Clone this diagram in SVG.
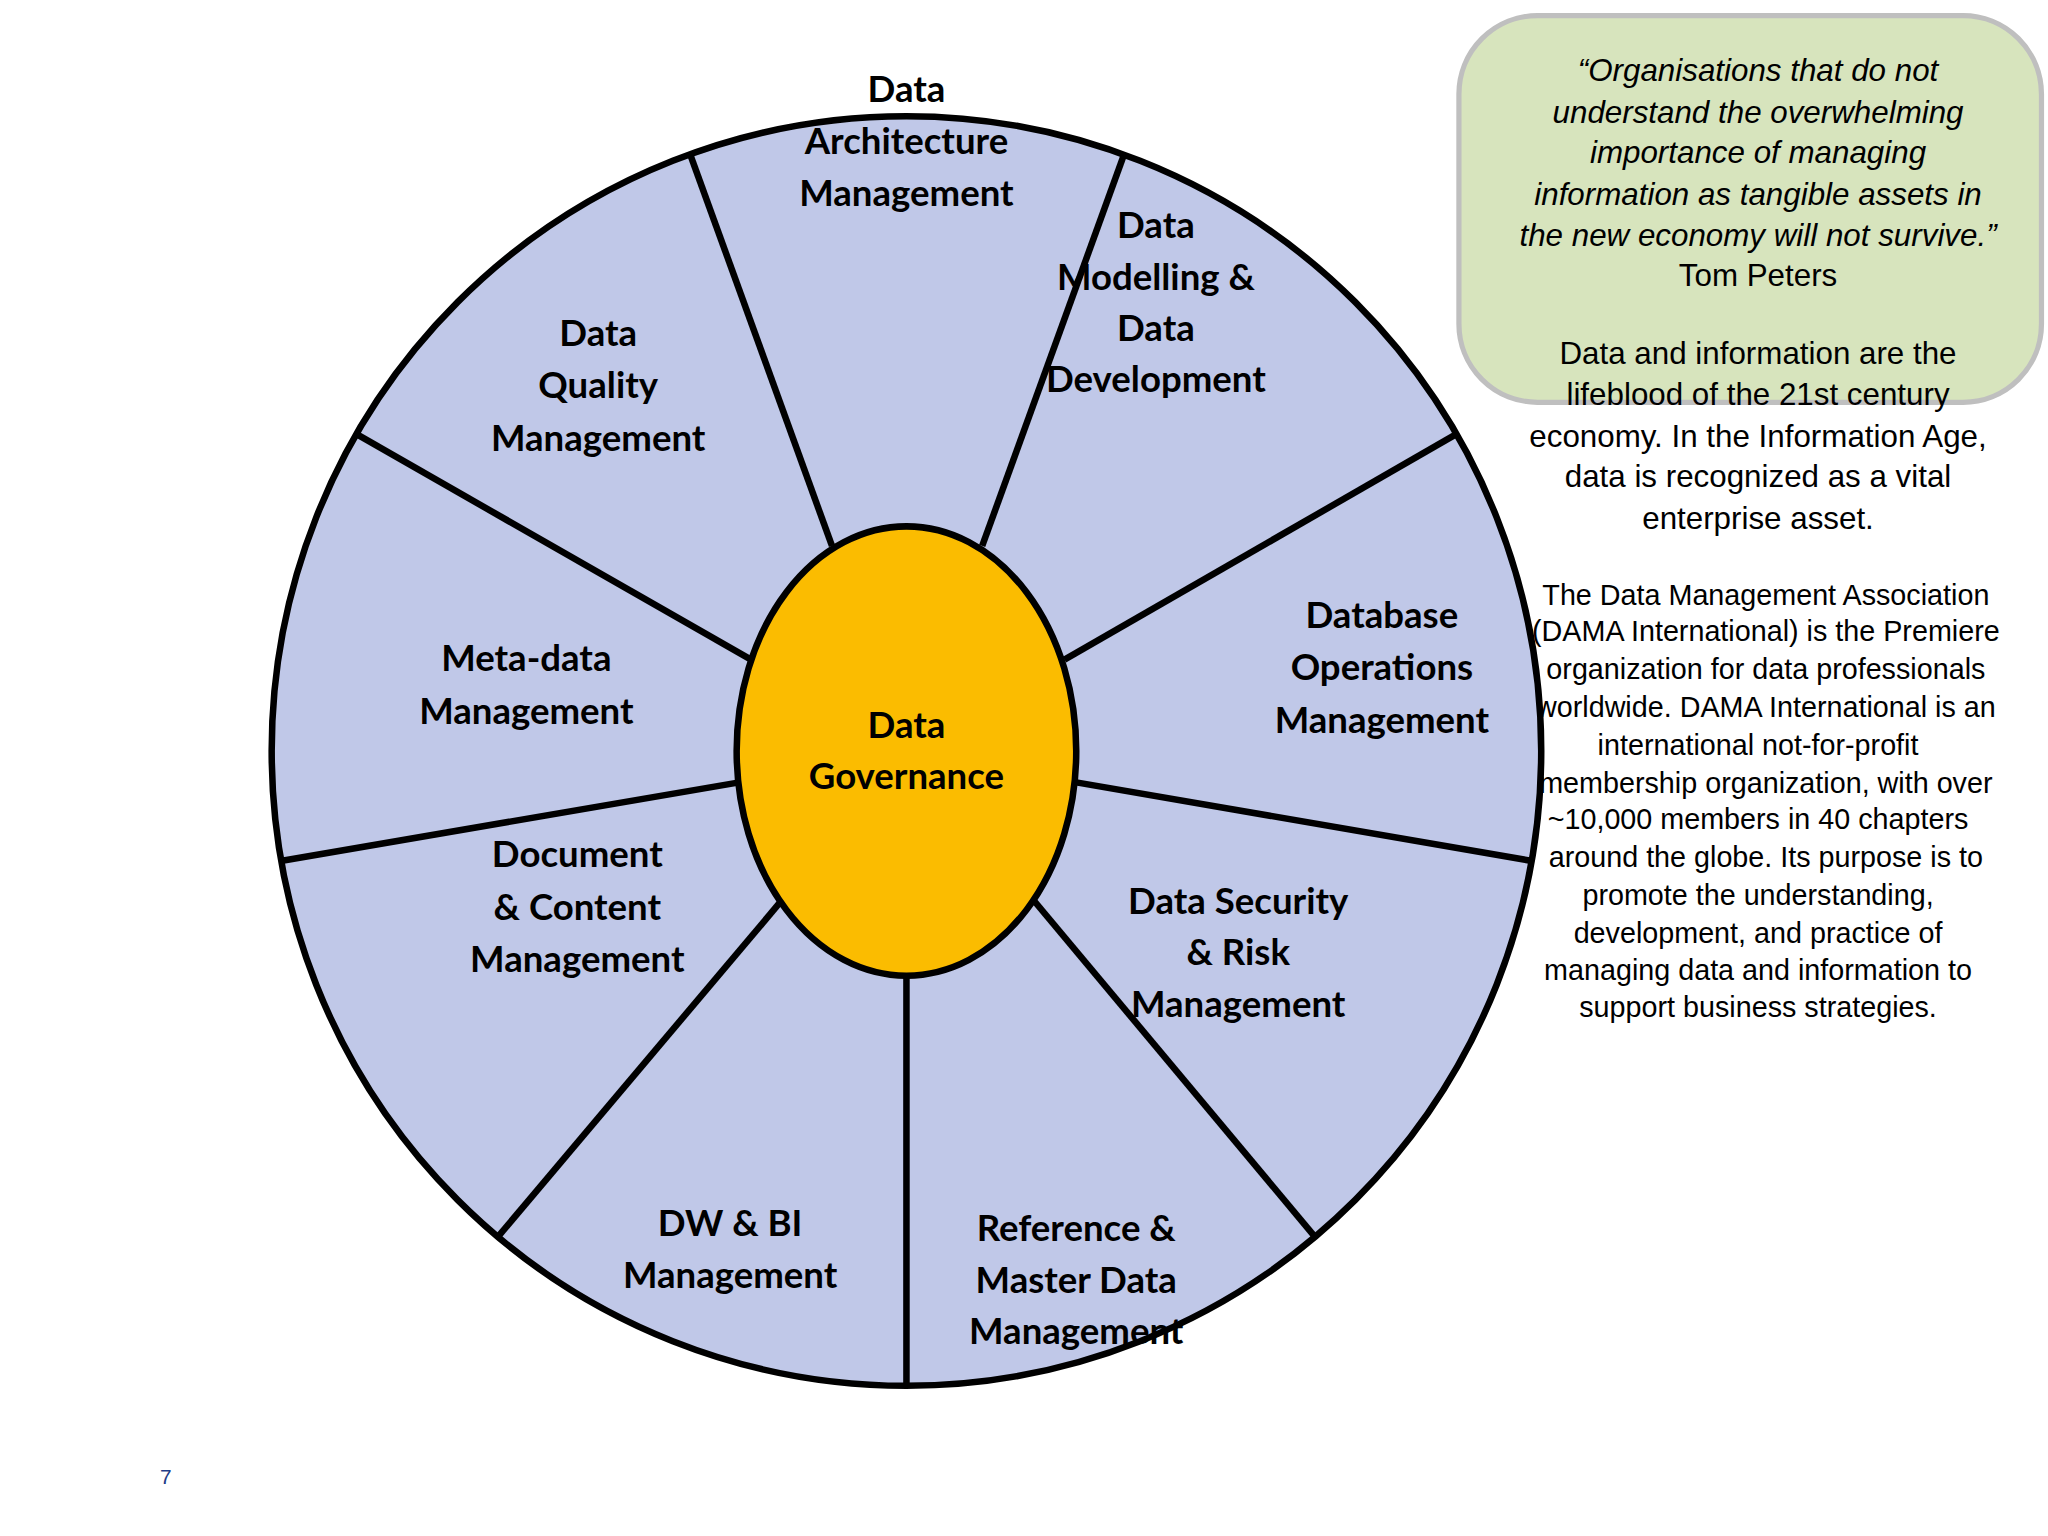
<svg xmlns="http://www.w3.org/2000/svg" width="2048" height="1536" viewBox="0 0 2048 1536">
<style>
.lb{font-family:Lato,"Open Sans",sans-serif;font-weight:bold;font-size:28px;fill:#000;text-anchor:middle}
.q{font-family:"Liberation Sans",Arial,sans-serif;font-size:24px;fill:#000;text-anchor:middle}
.p{font-family:"Liberation Sans",Arial,sans-serif;font-size:22px;fill:#000;text-anchor:middle}
.sp{stroke:#000;stroke-width:5;fill:none}
</style>
<rect width="2048" height="1536" fill="#fff"/>
<g transform="scale(1.30612)">
<g id="side-text">
<rect x="1117" y="12" width="446" height="296" rx="60" fill="#D7E4BD" stroke="#BFBFBF" stroke-width="4"/>
<text class="q" font-style="italic"><tspan x="1346" y="62">“Organisations that do not</tspan><tspan x="1346" y="94">understand the overwhelming</tspan><tspan x="1346" y="125">importance of managing</tspan><tspan x="1346" y="157">information as tangible assets in</tspan><tspan x="1346" y="188">the new economy will not survive.”</tspan></text>
<text class="q"><tspan x="1346" y="219">Tom Peters</tspan><tspan x="1346" y="279">Data and information are the</tspan><tspan x="1346" y="310">lifeblood of the 21st century</tspan><tspan x="1346" y="342">economy. In the Information Age,</tspan><tspan x="1346" y="373">data is recognized as a vital</tspan><tspan x="1346" y="405">enterprise asset.</tspan></text>
<text class="p"><tspan x="1352" y="463">The Data Management Association</tspan><tspan x="1352" y="491">(DAMA International) is the Premiere</tspan><tspan x="1352" y="520">organization for data professionals</tspan><tspan x="1352" y="549">worldwide. DAMA International is an</tspan><tspan x="1346" y="578">international not-for-profit</tspan><tspan x="1352" y="607">membership organization, with over</tspan><tspan x="1346" y="635">~10,000 members in 40 chapters</tspan><tspan x="1352" y="664">around the globe. Its purpose is to</tspan><tspan x="1346" y="693">promote the understanding,</tspan><tspan x="1346" y="722">development, and practice of</tspan><tspan x="1346" y="750">managing data and information to</tspan><tspan x="1346" y="779">support business strategies.</tspan></text>
</g>
<g id="wheel">
<circle cx="694" cy="575" r="486" fill="#C0C8E8" stroke="#000" stroke-width="5"/>
</g>
<g id="connectors">
<line class="sp" x1="637" y1="418" x2="528" y2="117"/>
<line class="sp" x1="752" y1="418" x2="860" y2="120"/>
<line class="sp" x1="815" y1="505" x2="1114" y2="333"/>
<line class="sp" x1="824" y1="599" x2="1172" y2="659"/>
<line class="sp" x1="792" y1="690" x2="1006" y2="946"/>
<line class="sp" x1="694" y1="747" x2="694" y2="1060"/>
<line class="sp" x1="598" y1="690" x2="382" y2="946"/>
<line class="sp" x1="566" y1="599" x2="216" y2="659"/>
<line class="sp" x1="575" y1="505" x2="274" y2="333"/>
</g>
<g id="governance">
<ellipse cx="694" cy="575" rx="130" ry="172" fill="#FBBC00" stroke="#000" stroke-width="5"/>
<text class="lb"><tspan x="694" y="565">Data</tspan><tspan x="694" y="604">Governance</tspan></text>
</g>
<g id="architecture"><text class="lb"><tspan x="694" y="78">Data</tspan><tspan x="694" y="118">Architecture</tspan><tspan x="694" y="158">Management</tspan></text></g>
<g id="modelling"><text class="lb"><tspan x="885" y="182">Data</tspan><tspan x="885" y="222">Modelling &amp;</tspan><tspan x="885" y="261">Data</tspan><tspan x="885" y="300">Development</tspan></text></g>
<g id="database"><text class="lb"><tspan x="1058" y="481">Database</tspan><tspan x="1058" y="521">Operations</tspan><tspan x="1058" y="561">Management</tspan></text></g>
<g id="security"><text class="lb"><tspan x="948" y="700">Data Security</tspan><tspan x="948" y="739">&amp; Risk</tspan><tspan x="948" y="779">Management</tspan></text></g>
<g id="reference"><text class="lb"><tspan x="824" y="950">Reference &amp;</tspan><tspan x="824" y="990">Master Data</tspan><tspan x="824" y="1029">Management</tspan></text></g>
<g id="dwbi"><text class="lb"><tspan x="559" y="946">DW &amp; BI</tspan><tspan x="559" y="986">Management</tspan></text></g>
<g id="document"><text class="lb"><tspan x="442" y="664">Document</tspan><tspan x="442" y="704">&amp; Content</tspan><tspan x="442" y="744">Management</tspan></text></g>
<g id="metadata"><text class="lb"><tspan x="403" y="514">Meta-data</tspan><tspan x="403" y="554">Management</tspan></text></g>
<g id="quality"><text class="lb"><tspan x="458" y="265">Data</tspan><tspan x="458" y="305">Quality</tspan><tspan x="458" y="345">Management</tspan></text></g>
<text x="127" y="1136" font-family="Liberation Sans,Arial,sans-serif" font-size="16" fill="#1F3C88" text-anchor="middle">7</text>
</g>
</svg>
